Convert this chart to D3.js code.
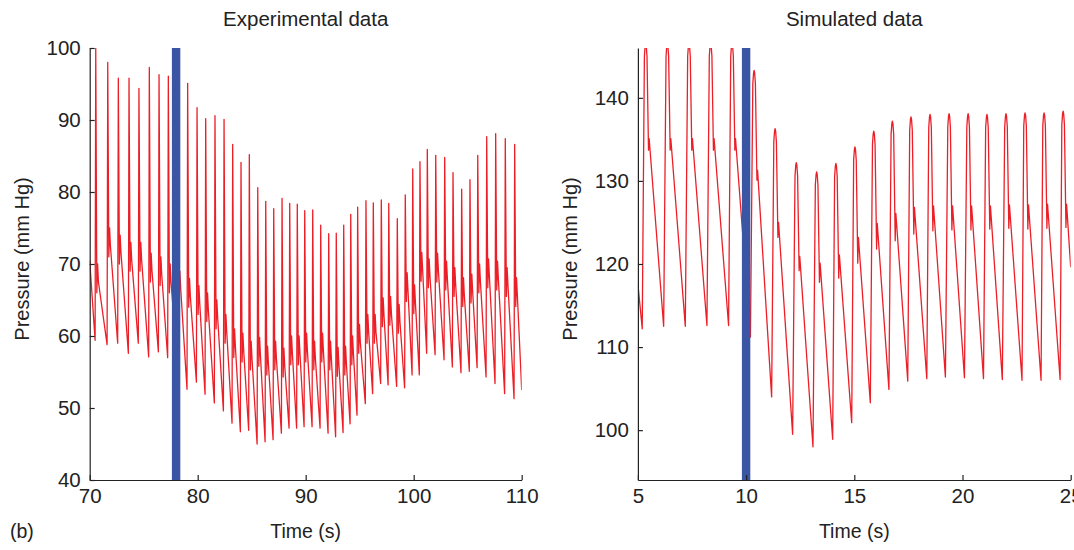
<!DOCTYPE html>
<html>
<meta charset="utf-8">
<style>
  body { margin: 0; background: #fff; }
  svg text { font-family: "Liberation Sans", Arial, sans-serif; fill: #222; }
  .axis path, .axis line { stroke: #222; stroke-width: 1.2; }
  .trace { fill: none; stroke: #ec1f27; stroke-width: 1.3; stroke-linejoin: round; }
  .bar { fill: #3a55a3; }
</style>
<body>
<script src="https://d3js.org/d3.v7.min.js"></script>
<script>
// ---- experimental record (left), one entry per beat ----
var expPeakTime = [70.56, 71.67, 72.65, 73.64, 74.56, 75.52, 76.42, 77.28, 78.18, 79.07,
  79.94, 80.74, 81.60, 82.44, 83.24, 84.01, 84.78, 85.56, 86.30, 87.04,
  87.81, 88.52, 89.22, 89.91, 90.65, 91.39, 92.13, 92.83, 93.52, 94.17,
  94.81, 95.58, 96.26, 97.00, 97.69, 98.48, 99.22, 99.91, 100.58, 101.26,
  102.04, 102.87, 103.64, 104.44, 105.21, 105.93, 106.76, 107.59, 108.48, 109.35];
var expPeak = [100, 98.0, 95.8, 95.8, 94.4, 97.3, 96.3, 96.1, 95.0, 95.1,
  91.7, 90.2, 90.6, 90.1, 86.6, 84.1, 85.2, 80.6, 78.7, 77.7,
  79.1, 78.4, 78.3, 77.4, 77.5, 75.4, 74.2, 74.3, 75.4, 76.9,
  77.9, 78.8, 78.5, 78.9, 78.4, 76.3, 79.6, 83.2, 84.2, 85.9,
  85.1, 84.8, 82.7, 80.4, 81.7, 85.1, 87.7, 88.1, 87.4, 86.6];
var expTrough = [59.4, 58.8, 59.0, 57.6, 59.0, 57.1, 57.8, 57.0, 56.0, 52.6,
  53.6, 51.9, 50.7, 49.6, 47.9, 46.7, 46.9, 45.0, 45.3, 45.6,
  46.5, 47.2, 47.2, 47.4, 47.4, 47.2, 46.5, 46.0, 46.6, 47.8,
  49.0, 50.6, 52.0, 53.4, 53.2, 53.0, 52.8, 54.6, 54.6, 57.6,
  57.4, 56.7, 55.7, 54.9, 55.1, 55.6, 54.3, 53.4, 52.0, 51.3];
var expNotch = [69, 74, 73, 72, 72, 70.5, 70, 69, 68, 67,
  66, 65, 64, 62, 60, 59.4, 58.3, 58.8, 57.6, 58.3,
  57.3, 59, 59, 59.4, 58.3, 59.4, 58.3, 57.4, 57.6, 59,
  60.6, 62, 62, 64.3, 64.5, 63.4, 67.8, 66.1, 70.6, 69.7,
  70.5, 69.4, 68.5, 67.1, 67.6, 69, 69.7, 69.4, 68.5, 67.1];
var expStart = [70, 70.5], expEnd = [110, 52.5];

// ---- simulated record (right) ----
var simTroughTime = [5.20, 6.19, 7.19, 8.19, 9.19, 10.20, 11.18, 12.15, 13.09, 14.00, 14.88,
  15.74, 16.60, 17.47, 18.35, 19.21, 20.09, 20.97, 21.84, 22.75, 23.63, 24.51];
var simTrough = [112.2, 112.5, 112.5, 112.6, 112.6, 111.2, 104.0, 99.5, 98.0, 98.9, 100.9,
  103.3, 104.9, 105.9, 106.2, 106.4, 106.3, 106.2, 106.1, 106.0, 106.0, 106.1];
var simPeakTime = [5.36, 6.36, 7.36, 8.36, 9.35, 10.37, 11.34, 12.32, 13.26, 14.15, 15.03,
  15.90, 16.76, 17.62, 18.50, 19.38, 20.26, 21.13, 22.01, 22.89, 23.77, 24.65];
var simPeak = [146.6, 146.6, 146.6, 146.6, 146.6, 143.3, 136.3, 132.2, 131.1, 132.1, 134.1,
  136.0, 137.2, 137.7, 138.0, 138.1, 138.1, 138.0, 138.1, 138.2, 138.2, 138.4];
var simNotchLo = [133.7, 133.7, 133.7, 133.7, 133.7, 130.1, 123.2, 119.2, 117.8, 118.3, 120.1,
  121.8, 122.8, 123.6, 124.0, 124.1, 124.1, 124.2, 124.3, 124.2, 124.3, 124.4];
var simNotchHi = [135.1, 135.1, 135.1, 135.1, 135.1, 131.3, 125.0, 120.9, 120.1, 121.1, 123.2,
  124.9, 126.1, 126.8, 127.0, 127.0, 127.0, 127.0, 127.1, 127.1, 127.2, 127.2];
var simStart = [5, 117.6], simEnd = [25, 119.6];

// stimulus markers and ticks
var expMarker = 78, simMarker = 10;
var expXTicks = [70, 80, 90, 100, 110], expYTicks = [40, 50, 60, 70, 80, 90, 100];
var simXTicks = [5, 10, 15, 20, 25], simYTicks = [100, 110, 120, 130, 140];

var width = 1074, height = 550;
var plotTop = 48, plotBottom = 480;

var svg = d3.select("body").append("svg")
  .attr("width", width)
  .attr("height", height);

function panel(opts) {
  var x = d3.scaleLinear().domain(opts.xDomain).range(opts.xRange);
  var y = d3.scaleLinear().domain(opts.yDomain).range([plotBottom, plotTop]);

  var g = svg.append("g");

  g.append("clipPath").attr("id", opts.id)
    .append("rect")
    .attr("x", opts.xRange[0]).attr("y", plotTop)
    .attr("width", opts.xRange[1] - opts.xRange[0])
    .attr("height", plotBottom - plotTop);

  var line = d3.line()
    .x(function(d) { return x(d[0]); })
    .y(function(d) { return y(d[1]); });

  g.append("path")
    .datum(opts.points)
    .attr("class", "trace")
    .attr("clip-path", "url(#" + opts.id + ")")
    .attr("d", line);

  // stimulus bar
  g.append("rect")
    .attr("class", "bar")
    .attr("x", x(opts.marker) - 4.2)
    .attr("y", plotTop)
    .attr("width", 8.4)
    .attr("height", plotBottom - plotTop);

  g.append("g")
    .attr("class", "axis")
    .attr("transform", "translate(0," + plotBottom + ")")
    .call(d3.axisBottom(x).tickValues(opts.xTicks).tickSize(-5).tickSizeOuter(0).tickPadding(8));

  g.append("g")
    .attr("class", "axis")
    .attr("transform", "translate(" + opts.xRange[0] + ",0)")
    .call(d3.axisLeft(y).tickValues(opts.yTicks).tickSize(-5).tickSizeOuter(0).tickPadding(9));

  g.selectAll(".axis text")
    .attr("font-family", null)
    .style("font-size", "20.5px")
    .attr("fill", "#222");

  var cx = (opts.xRange[0] + opts.xRange[1]) / 2;

  g.append("text")
    .attr("x", cx).attr("y", 26)
    .attr("text-anchor", "middle")
    .style("font-size", "20.5px")
    .text(opts.title);

  g.append("text")
    .attr("x", cx).attr("y", 538)
    .attr("text-anchor", "middle")
    .style("font-size", "19.5px")
    .text("Time (s)");

  g.append("text")
    .attr("transform", "translate(" + (opts.xRange[0] - 61) + "," + 259 + ") rotate(-90)")
    .attr("text-anchor", "middle")
    .style("font-size", "20px")
    .text("Pressure (mm Hg)");
}

// left: experimental beats (trough, upstroke, dicrotic notch)
var expPoints = [expStart];
expPeakTime.forEach(function(tp, i) {
  expPoints.push([tp - 0.06, expTrough[i]]);
  expPoints.push([tp, expPeak[i]]);
  expPoints.push([tp + 0.1, expNotch[i] - 3]);
  expPoints.push([tp + 0.17, expNotch[i] + 1]);
  expPoints.push([tp + 0.25, expNotch[i] - 1.5]);
});
expPoints.push(expEnd);

// right: simulated beats
var simPoints = [simStart];
simPeakTime.forEach(function(tp, i) {
  simPoints.push([simTroughTime[i], simTrough[i]]);
  simPoints.push([tp - 0.06, simPeak[i] - 1.6]);
  simPoints.push([tp - 0.025, simPeak[i] - 0.3]);
  simPoints.push([tp, simPeak[i]]);
  simPoints.push([tp + 0.025, simPeak[i] - 0.3]);
  simPoints.push([tp + 0.06, simPeak[i] - 1.6]);
  simPoints.push([tp + 0.13, simNotchLo[i]]);
  simPoints.push([tp + 0.16, simNotchHi[i]]);
});
simPoints.push(simEnd);

panel({
  id: "clipExp",
  title: "Experimental data",
  xDomain: [70, 110], xRange: [89.7, 521.7],
  yDomain: [40, 100],
  xTicks: expXTicks, yTicks: expYTicks,
  marker: expMarker,
  points: expPoints
});

panel({
  id: "clipSim",
  title: "Simulated data",
  xDomain: [5, 25], xRange: [637.9, 1070.7],
  yDomain: [94, 146],
  xTicks: simXTicks, yTicks: simYTicks,
  marker: simMarker,
  points: simPoints
});

svg.append("text")
  .attr("x", 10).attr("y", 538)
  .style("font-size", "19.5px")
  .text("(b)");
</script>
</body>
</html>
